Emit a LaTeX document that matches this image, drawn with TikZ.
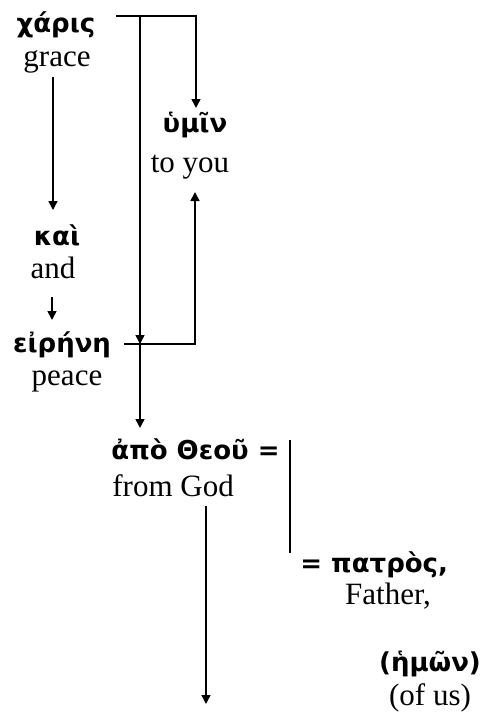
\documentclass[tikz,border=0pt]{standalone}
\usepackage{fontspec}
\setmainfont{Liberation Serif}
\newfontfamily\greekfont{DejaVu Sans}
\usetikzlibrary{arrows.meta,positioning}

\begin{document}
\begin{tikzpicture}[
  x=0.5pt, y=-0.5pt,
  gk/.style={font=\greekfont\bfseries\fontsize{13}{15}\selectfont, inner sep=0pt, anchor=base},
  en/.style={font=\fontsize{15.5}{18}\selectfont, inner sep=0pt, anchor=base},
  link/.style={line width=0.8pt},
  arr/.style={link, -{Triangle[length=4.5pt,width=4.5pt]}}
]
\useasboundingbox[fill=white] (0,0) rectangle (482,713);

% words and glosses
\node[gk] (charis) at (56,32) {χάρις};
\node[en] (grace) at (57,66) {grace};
\node[gk] (hymin) at (195,132) {ὑμῖν};
\node[en] (toyou) at (190,172) {to you};
\node[gk] (kai) at (57,245) {καὶ};
\node[en] (and) at (53,278) {and};
\node[gk] (eirene) at (62,352) {εἰρήνη};
\node[en] (peace) at (67,385) {peace};
\node[gk, anchor=base west] (apo) at (111,459) {ἀπὸ Θεοῦ =};
\node[en, anchor=base west] (fromgod) at (112,496) {from God};
\node[gk, anchor=base west] (patros) at (300,572) {= πατρὸς,};
\node[en] (father) at (388,604) {Father,};
\node[gk] (hemon) at (430,671) {(ἡμῶν)};
\node[en] (ofus) at (430,705) {(of us)};

% junctions
\coordinate (charisout) at (116,16);
\coordinate (split) at (140,16);
\coordinate (corner) at (196,16);
\coordinate (hymintip) at (196,108);
\coordinate (join) at (140,344);
\coordinate (eireneout) at (124,344);
\coordinate (ecorner) at (195,344);
\coordinate (toyoutip) at (195,192);
\coordinate (apotip) at (140,428);
\coordinate (gracebot) at (53,77);
\coordinate (kaitip) at (53,210);
\coordinate (andbot) at (52,297);
\coordinate (eirenetip) at (52,320);
\coordinate (bartop) at (290,440);
\coordinate (barbot) at (290,553);
\coordinate (godbot) at (206,506);
\coordinate (godtip) at (206,704);

% connectors
\draw[arr] (charisout) -- (corner) -- (hymintip);
\draw[arr] (split) -- (join);
\draw[arr] (join) -- (apotip);
\draw[arr] (eireneout) -- (ecorner) -- (toyoutip);
\draw[arr] (gracebot) -- (kaitip);
\draw[arr] (andbot) -- (eirenetip);
\draw[link] (bartop) -- (barbot);
\draw[arr] (godbot) -- (godtip);
\end{tikzpicture}
\end{document}
